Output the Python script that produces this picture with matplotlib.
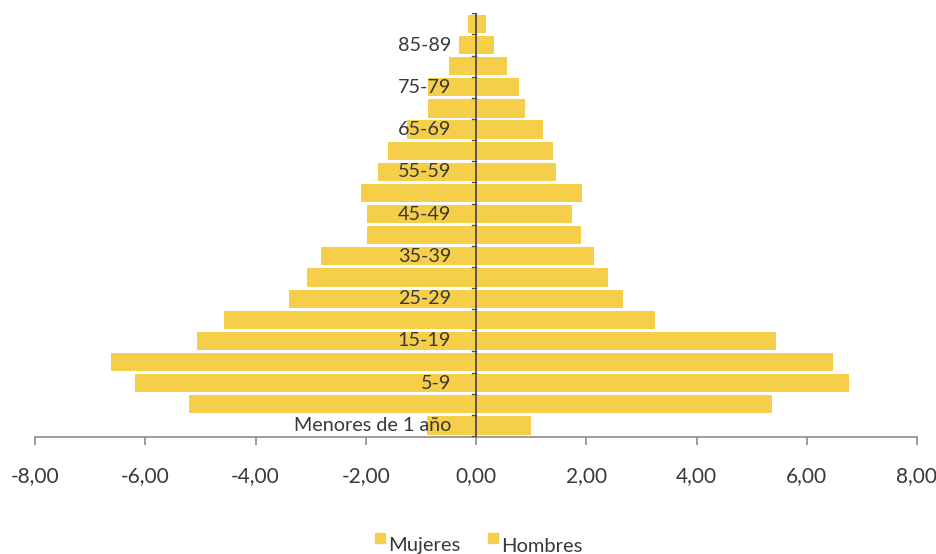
import numpy as np
import matplotlib.pyplot as plt
import matplotlib.patches as mpatches

plt.rcParams['font.family'] = ['Lato', 'DejaVu Sans']

grupos = ['Menores de 1 año', '1-4', '5-9', '10-14', '15-19', '20-24', '25-29',
          '30-34', '35-39', '40-44', '45-49', '50-54', '55-59', '60-64',
          '65-69', '70-74', '75-79', '80-84', '85-89', '90 y más']
mujeres = [-0.89, -5.21, -6.19, -6.62, -5.06, -4.57, -3.39, -3.07, -2.81, -1.98,
           -1.97, -2.08, -1.78, -1.60, -1.26, -0.87, -0.87, -0.49, -0.31, -0.15]
hombres = [1.00, 5.37, 6.77, 6.48, 5.44, 3.25, 2.67, 2.40, 2.14, 1.91,
           1.74, 1.92, 1.45, 1.40, 1.22, 0.89, 0.78, 0.56, 0.33, 0.18]
xticks = [-8, -6, -4, -2, 0, 2, 4, 6, 8]
series = ['Mujeres', 'Hombres']

color = '#F6CF4A'
txt = '#383838'

fig = plt.figure(figsize=(9.36, 5.54), dpi=100)
ax = fig.add_axes([0.0374, 0.211, 0.9423, 0.765])

y = np.arange(len(grupos))
ax.barh(y, mujeres, height=0.86, color=color, label=series[0])
ax.barh(y, hombres, height=0.86, color=color, label=series[1])

ax.set_xlim(-8, 8)
ax.set_ylim(-0.55, 19.5)

for s in ['top', 'right', 'left']:
    ax.spines[s].set_visible(False)
ax.spines['bottom'].set_color('#8c8c8c')
ax.spines['bottom'].set_linewidth(1.2)

ax.set_xticks(xticks)
ax.set_xticklabels([f'{v:,.2f}'.replace('.', ',') for v in xticks],
                   fontsize=15, color=txt)
ax.tick_params(axis='x', length=6, color='#8c8c8c', width=1.2, pad=15)

# eje vertical en x=0
ax.axvline(0, color='#4d4d4d', lw=1.3, zorder=3)
for b in np.arange(-0.5, len(grupos), 1.0):
    ax.plot([-0.07, 0], [b, b], color='#4d4d4d', lw=1, zorder=3)

ax.set_yticks([])
for i in range(0, len(grupos), 2):
    ax.text(-0.45, i, grupos[i], ha='right', va='center', fontsize=14.2,
            color=txt, zorder=4)

# leyenda manual
W, H = 936, 554
for name, xs in zip(series, [375, 488]):
    fig.patches.append(mpatches.Rectangle((xs / W, 11 / H), 10 / W, 10 / H,
                                          transform=fig.transFigure,
                                          color=color))
    fig.text((xs + 13) / W, 8 / H, name, ha='left', va='center',
             fontsize=14.5, color=txt)

fig.savefig('out.png', dpi=100)
